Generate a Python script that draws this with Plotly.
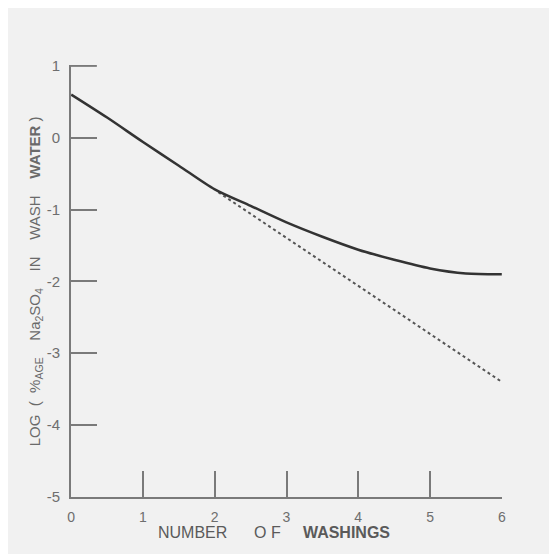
import plotly.graph_objects as go

# washings vs log(% Na2SO4 in wash water)
washings = [0, 0.5, 1, 1.5, 2, 2.5, 3, 3.5, 4, 4.5, 5, 5.5, 6]
log_conc = [0.6, 0.28, -0.06, -0.39, -0.72, -0.95, -1.18, -1.38, -1.56, -1.70, -1.82, -1.89, -1.90]

# straight-line extrapolation of the early part
extrap_x = [2.05, 6]
extrap_y = [-0.76, -3.40]

x_ticks = [0, 1, 2, 3, 4, 5, 6]
y_ticks = [1, 0, -1, -2, -3, -4, -5]
y_tick_text = ['1', '0', '-1', '-2', '-3', '-4', '-5']

axis_col = '#7a7a7a'
text_col = '#6e6e6e'

fig = go.Figure()

fig.add_trace(go.Scatter(
    x=extrap_x, y=extrap_y, mode='lines',
    line=dict(color='#555555', width=2, dash='dot'),
    showlegend=False, hoverinfo='skip'
))

fig.add_trace(go.Scatter(
    x=washings, y=log_conc, mode='lines',
    line=dict(color='#333333', width=2.5, shape='spline', smoothing=0.8),
    showlegend=False
))

# the page body adds an 8px offset, so margins are trimmed by that much
fig.update_layout(
    width=557, height=554,
    margin=dict(l=63, r=63, t=57, b=65),
    paper_bgcolor='#f1f1f1',
    plot_bgcolor='#f1f1f1',
    font=dict(family='Liberation Sans, Arial, sans-serif', color=text_col, size=13),
    xaxis=dict(
        range=[-0.003, 6.003], tickvals=x_ticks,
        showgrid=False, zeroline=False,
        showline=True, linecolor=axis_col, linewidth=2,
        ticks='inside', ticklen=26, tickwidth=2, tickcolor=axis_col,
        ticklabelstandoff=6,
        tickfont=dict(size=14, color=text_col)
    ),
    yaxis=dict(
        range=[-5.003, 1.012], tickvals=y_ticks, ticktext=y_tick_text,
        showgrid=False, zeroline=False,
        showline=True, linecolor=axis_col, linewidth=2,
        ticks='inside', ticklen=26, tickwidth=2, tickcolor=axis_col,
        ticklabelstandoff=6,
        tickfont=dict(size=15, color=text_col)
    ),
    annotations=[
        dict(
            text='NUMBER &nbsp; &nbsp; &nbsp;O F &nbsp; &nbsp; <b>WASHINGS</b>',
            xref='paper', yref='paper', x=0.47, y=-0.083,
            xanchor='center', yanchor='middle', showarrow=False,
            font=dict(size=16, color='#5a5a5a')
        ),
        dict(
            text='LOG &nbsp;( &nbsp;%<sub>AGE</sub> &nbsp; &nbsp;Na<sub>2</sub>SO<sub>4</sub> &nbsp; &nbsp;IN &nbsp; &nbsp;WASH &nbsp; &nbsp;<b>WATER</b> )',
            xref='paper', yref='paper', x=-0.083, y=0.5,
            xanchor='center', yanchor='middle', textangle=-90, showarrow=False,
            font=dict(size=15, color='#6a6a6a')
        ),
    ],
    shapes=[
        # faint edge of the scanned page
        dict(type='line', xref='paper', yref='paper',
             x0=-0.152, x1=-0.152, y0=-0.25, y1=1.1,
             line=dict(color='#d0d0d0', width=3)),
        # top tick of the y axis (plotly drops it at the plot edge)
        dict(type='line', xref='paper', yref='y',
             x0=0, x1=0.06, y0=y_ticks[0], y1=y_ticks[0],
             line=dict(color=axis_col, width=2)),
    ]
)

fig.write_html("out.html")
